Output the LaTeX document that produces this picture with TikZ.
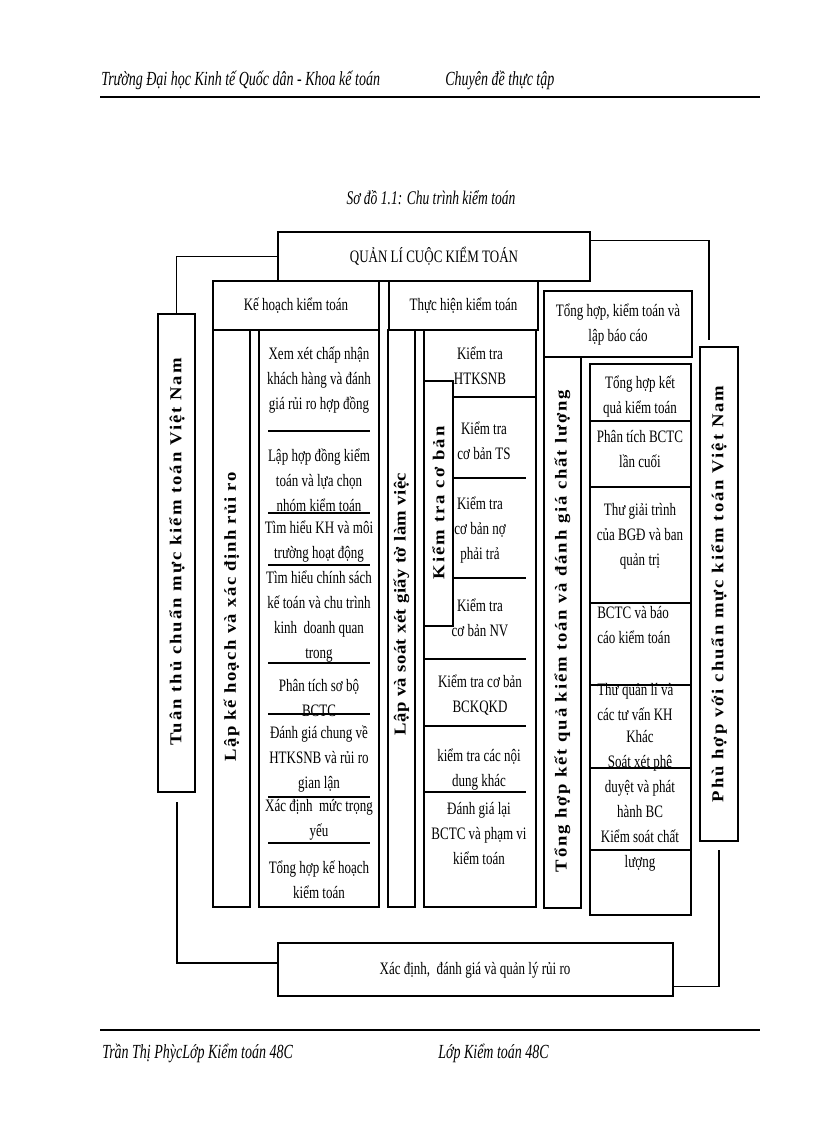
\documentclass[tikz,border=0pt]{standalone}
\usepackage{fontspec}
\setmainfont[FakeStretch=0.745]{Liberation Serif}
\newfontfamily\vbfont[FakeStretch=1.12]{Liberation Serif}
\newfontfamily\hdfont[FakeStretch=0.7]{Liberation Serif}
\usetikzlibrary{fit}
\tikzset{
  box/.style={draw=black, line width=0.8pt, inner sep=0pt},
  sep/.style={line width=0.8pt},
  conn/.style={line width=0.8pt},
  txt/.style={align=center, inner sep=0pt, font=\fontsize{13.1}{18.75}\selectfont},
  txtl/.style={align=left, inner sep=0pt, anchor=west, font=\fontsize{13.1}{18.75}\selectfont},
  hdr/.style={inner sep=0pt, anchor=west, font=\hdfont\itshape\fontsize{15}{17}\selectfont},
  vt/.style={rotate=90, inner sep=0pt},
}
\newcommand\vfnt[1]{\vbfont\bfseries\fontsize{12.5}{14}\selectfont\addfontfeature{LetterSpace=#1}}
\begin{document}
\begin{tikzpicture}[x=0.75pt,y=-0.75pt]
\useasboundingbox (0,0) rectangle (816,1123);
\fill[white] (0,0) rectangle (816,1123);

% header / footer
\node[hdr] (h1) at (101,80) {Trường Đại học Kinh tế Quốc dân - Khoa kế toán};
\node[hdr] (h2) at (445,80) {Chuyên đề thực tập};
\draw[line width=2.2pt] (100,97) -- (760,97);
\node[inner sep=0pt, font=\hdfont\itshape\fontsize{14.5}{16}\selectfont] (title) at (431,198) {Sơ đồ 1.1: Chu trình kiểm toán};
\draw[line width=2.2pt] (100,1030) -- (760,1030);
\node[hdr] (f1) at (102,1053) {Trần Thị PhỳcLớp Kiểm toán 48C};
\node[hdr] (f2) at (438,1053) {Lớp Kiểm toán 48C};

% boxes
\node[box, fit={(278,232) (590,281)}] (top) {};
\node[box, fit={(213,281) (379,330)}] (kh) {};
\node[box, fit={(389,281) (538,330)}] (th) {};
\node[box, fit={(544,291) (692,357)}] (tk) {};
\node[box, fit={(158,314) (195,792)}] (lv) {};
\node[box, fit={(213,330) (250,907)}] (c1v) {};
\node[box, fit={(259,330) (379,907)}] (c1c) {};
\node[box, fit={(388,330) (415,907)}] (c2v) {};
\node[box, fit={(424,330) (536,907)}] (c2c) {};
\node[box, fit={(424,381) (453,626)}] (kt) {};
\node[box, fit={(544,357) (581,908)}] (c3v) {};
\node[box, fit={(590,364) (691,915)}] (c3c) {};
\node[box, fit={(700,347) (738,841)}] (rv) {};
\node[box, fit={(278,943) (673,996)}] (bot) {};

% box titles
\node[txt] (ttop) at (top.center) {QUẢN LÍ CUỘC KIỂM TOÁN};
\node[txt] (tkh) at (kh.center) {Kế hoạch kiểm toán};
\node[txt] (tth) at (th.center) {Thực hiện kiểm toán};
\node[txt] (ttk) at (618,325) {Tổng hợp, kiểm toán và\\lập báo cáo};
\node[txt] (tbot) at (475,970) {Xác định,\ \ đánh giá và quản lý rủi ro};

% connectors
\coordinate (rtop) at (709,340);
\coordinate (rbot) at (719,850);
\coordinate (lbot) at (177,802);
\draw[conn] (top.west) -| (lv.north);
\draw[conn] ([yshift=-6.75pt]top.north east) -| (rtop);
\draw[conn] (rbot) |- ([yshift=7.5pt]bot.south east);
\draw[conn] (lbot) |- ([yshift=4.9pt]bot.west);

% vertical texts
\node[vt, font=\vfnt{12}] (vl) at (177,552) {Tuân thủ chuẩn mực kiểm toán Việt Nam};
\node[vt, font=\vfnt{9}] (v1) at (231.5,617) {Lập kế hoạch và xác định rủi ro};
\node[vt, font=\vfnt{3}] (v2) at (401.5,604) {Lập và soát xét giấy tờ làm việc};
\node[vt, font=\vfnt{12.5}] (vkt) at (438.5,503) {Kiểm tra cơ bản};
\node[vt, font=\vfnt{11}] (v3) at (562.5,631) {Tổng hợp kết quả kiểm toán và đánh giá chất lượng};
\node[vt, font=\vfnt{12}] (vr) at (719,594) {Phù hợp với chuẩn mực kiểm toán Việt Nam};

% column 1 separators and texts
\foreach \yy in {431,513,565,663,714,797,843} \draw[sep] (268,\yy) -- (370,\yy);
\node[txt] (a1) at (319,380) {Xem xét chấp nhận\\khách hàng và đánh\\giá rủi ro hợp đồng};
\node[txt] (a2) at (319,480) {Lập hợp đồng kiểm\\toán và lựa chọn\\nhóm kiểm toán};
\node[txt] (a3) at (319,542) {Tìm hiểu KH và môi\\trường hoạt động};
\node[txt] (a4) at (319,617) {Tìm hiểu chính sách\\kế toán và chu trình\\kinh\ \ doanh quan\\trong};
\node[txt] (a5) at (319,698) {Phân tích sơ bộ\\BCTC};
\node[txt] (a6) at (319,759) {Đánh giá chung về\\HTKSNB và rủi ro\\gian lận};
\node[txt] (a7) at (319,820) {Xác định\ \ mức trọng\\yếu};
\node[txt] (a8) at (319,880) {Tổng hợp kế hoạch\\kiểm toán};

% column 2 separators and texts
\draw[sep] (453,397) -- (536,397);
\draw[sep] (453,478) -- (526,478);
\draw[sep] (453,578) -- (526,578);
\draw[sep] (424,659) -- (526,659);
\draw[sep] (424,726) -- (526,726);
\draw[sep] (424,792) -- (526,792);
\node[txt] (b1) at (480,366) {Kiểm tra\\HTKSNB};
\node[txt] (b2) at (484,441) {Kiểm tra\\cơ bản TS};
\node[txt] (b3) at (480,530) {Kiểm tra\\cơ bản nợ\\phải trả};
\node[txt] (b4) at (480,618) {Kiểm tra\\cơ bản NV};
\node[txt] (b5) at (480,695) {Kiểm tra cơ bản\\BCKQKD};
\node[txt] (b6) at (479,770) {kiểm tra các nội\\dung khác};
\node[txt] (b7) at (479,834) {Đánh giá lại\\BCTC và phạm vi\\kiểm toán};

% column 3 separators and texts
\foreach \yy in {421,487,603,685,768,850} \draw[sep] (590,\yy) -- (691,\yy);
\node[txt] (c1) at (640,397) {Tổng hợp kết\\quả kiểm toán};
\node[txt] (c2) at (640,449) {Phân tích BCTC\\lần cuối};
\node[txt] (c3) at (640,536) {Thư giải trình\\của BGĐ và ban\\quản trị};
\node[txtl] (c4) at (597,625) {BCTC và báo\\cáo kiểm toán};
\node[txtl] (c5) at (597,702) {Thư quản lí và\\các tư vấn KH};
\node[txt] (c6) at (640,801) {Khác\\Soát xét phê\\duyệt và phát\\hành BC\\Kiểm soát chất\\lượng};
\end{tikzpicture}
\end{document}
